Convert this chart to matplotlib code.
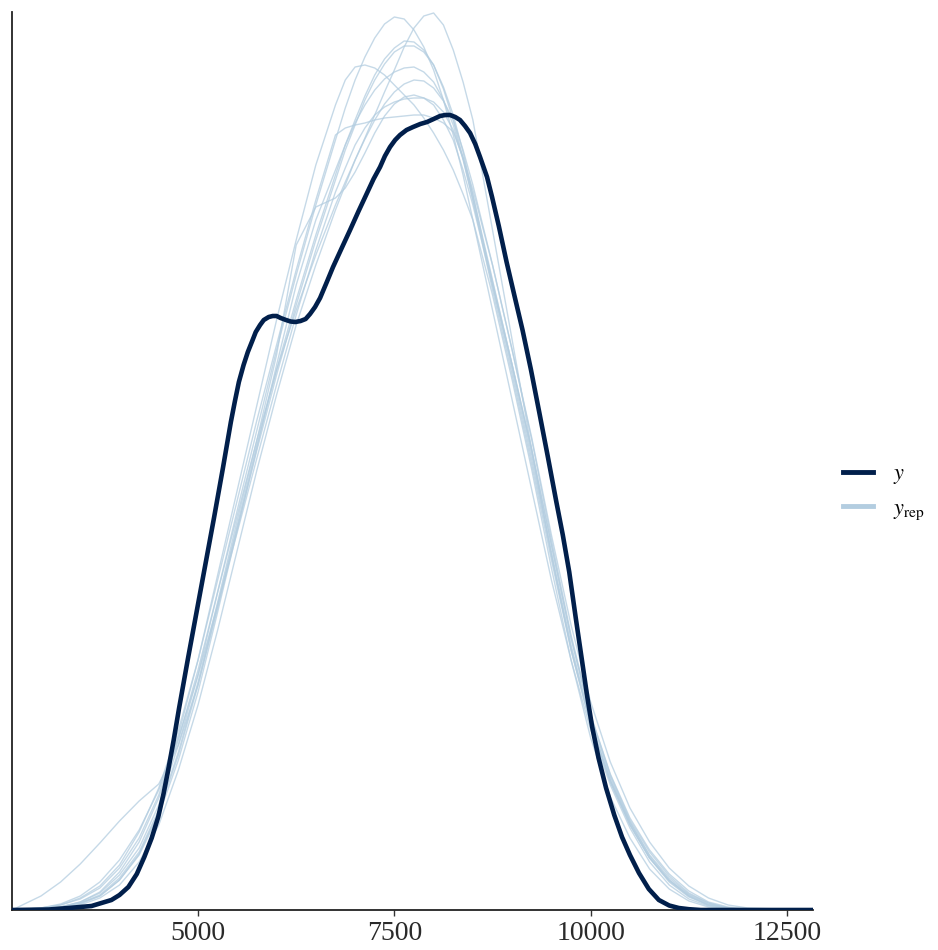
import numpy as np
import matplotlib
matplotlib.use("Agg")
import matplotlib.pyplot as plt
from matplotlib.lines import Line2D

plt.rcParams['font.family'] = ['Liberation Serif', 'DejaVu Serif']
plt.rcParams['mathtext.fontset'] = 'stix'

# ---- data (density in relative units, y axis is unlabelled) ----
y_x = [2631, 3100, 3352, 3644, 3897, 4000, 4113, 4220, 4316, 4410, 4493, 4560, 4620, 4690,
       4759, 4873, 5038, 5203, 5317, 5418, 5470, 5520, 5580, 5634, 5690, 5735, 5790, 5837,
       5900, 5951, 6000, 6052, 6120, 6179, 6240, 6305, 6370, 6426, 6490, 6554, 6640, 6719,
       6830, 6936, 7045, 7152, 7235, 7318, 7380, 7445, 7510, 7572, 7655, 7738, 7830, 7916,
       8000, 8082, 8150, 8209, 8275, 8336, 8400, 8464, 8530, 8591, 8640, 8680, 8744, 8830,
       8929, 9030, 9132, 9240, 9347, 9455, 9563, 9645, 9727, 9810, 9892, 9955, 10019, 10100,
       10196, 10300, 10399, 10500, 10615, 10740, 10868, 11000, 11122, 11250, 11400, 12831]
y_dens = [0, 0.5, 2, 4, 10, 15, 23, 36, 53, 72, 93, 116, 140, 170,
          202, 252, 322, 392, 442, 488, 509, 528, 545, 558, 569, 578, 585, 590,
          593, 594, 594, 592, 590, 588.5, 588, 589, 591, 596, 603, 612, 628, 643,
          662, 680, 699, 717, 731, 743, 754, 763, 770, 775, 780, 783, 786, 788,
          791, 794, 795, 795, 793, 790, 784, 777, 766, 753, 742, 733, 713, 684,
          648, 614, 580, 540, 497, 453, 408, 375, 338, 292, 248, 214, 183, 152,
          122, 95, 73, 55, 37, 21, 10, 4.5, 2, 0.8, 0, 0]

yrep_x = [2631, 3000, 3250, 3500, 3750, 4000, 4250, 4500, 4750, 5000, 5250, 5500, 5750, 6000,
          6250, 6500, 6750, 6875, 7000, 7125, 7250, 7375, 7500, 7625, 7750, 7875, 8000,
          8125, 8250, 8375, 8500, 8750, 9000, 9250, 9500, 9750, 10000, 10250, 10500, 10750,
          11000, 11250, 11500, 11750, 12000, 12831]

yrep_1 = [0, 1, 3, 8, 17, 35, 62, 105, 165, 235, 318, 400, 480, 560, 635, 705,
          770, 802, 830, 853, 872, 886, 893, 891, 880, 863, 840, 810, 775, 735, 690,
          600, 510, 420, 330, 250, 180, 125, 82, 48, 25, 11, 4, 1, 0, 0]
yrep_2 = [0, 0, 2, 5, 12, 25, 48, 85, 140, 205, 280, 360, 440, 515, 585, 645,
          700, 725, 750, 772, 795, 818, 840, 863, 882, 894, 897, 885, 860, 828, 790,
          680, 570, 460, 355, 260, 185, 128, 85, 52, 28, 13, 5, 2, 0, 0]
yrep_3 = [0, 2, 5, 11, 22, 42, 72, 115, 175, 250, 335, 420, 505, 590, 670, 745,
          805, 830, 843, 845, 842, 835, 825, 815, 805, 792, 777, 760, 740, 716, 690,
          615, 530, 440, 342, 250, 172, 113, 72, 41, 21, 9, 3, 1, 0, 0]
yrep_4 = [0, 1, 3, 7, 14, 30, 56, 98, 155, 225, 305, 385, 465, 540, 610, 675,
          735, 765, 790, 814, 835, 851, 862, 869, 868, 860, 845, 821, 790, 752, 710,
          620, 535, 445, 350, 260, 185, 128, 85, 52, 30, 15, 6, 2, 0, 0]
yrep_5 = [0, 14, 28, 46, 67, 89, 109, 126, 165, 225, 302, 382, 460, 535, 605, 670,
          730, 760, 785, 810, 830, 846, 858, 864, 864, 858, 845, 823, 795, 758, 715,
          625, 540, 450, 355, 262, 186, 130, 88, 55, 32, 16, 7, 2, 0, 0]
yrep_6 = [0, 1, 3, 8, 18, 38, 68, 112, 170, 240, 318, 395, 470, 540, 600, 655,
          705, 728, 750, 771, 790, 806, 818, 826, 830, 829, 822, 809, 790, 760, 725,
          645, 560, 470, 370, 275, 195, 135, 90, 58, 34, 17, 7, 2, 0, 0]
yrep_7 = [0, 2, 5, 12, 24, 45, 78, 122, 180, 250, 330, 410, 490, 565, 640, 710,
          775, 782, 785, 787, 790, 792, 793, 794, 795, 795, 792, 787, 778, 752, 715,
          630, 545, 455, 358, 265, 188, 130, 86, 52, 29, 14, 5, 2, 0, 0]
yrep_8 = [0, 1, 3, 7, 15, 32, 58, 100, 158, 228, 308, 390, 470, 555, 665, 703,
          712, 722, 738, 757, 777, 794, 806, 813, 815, 812, 805, 790, 770, 740, 705,
          625, 545, 460, 365, 272, 193, 133, 88, 54, 30, 14, 5, 2, 0, 0]
yrep_9 = [0, 1, 2, 6, 14, 30, 55, 95, 150, 218, 298, 380, 462, 545, 625, 690,
          740, 765, 787, 805, 820, 831, 838, 842, 843, 838, 828, 810, 785, 750, 710,
          628, 545, 460, 365, 272, 195, 136, 92, 60, 36, 19, 8, 3, 1, 0]
yrep_10 = [0, 2, 6, 14, 28, 50, 80, 120, 172, 235, 305, 378, 452, 525, 595, 660,
           718, 742, 765, 782, 795, 803, 808, 811, 812, 812, 808, 798, 780, 752, 720,
           645, 560, 472, 375, 285, 208, 148, 102, 68, 42, 24, 12, 5, 2, 0]
yrep_all = [yrep_1, yrep_2, yrep_3, yrep_4, yrep_5, yrep_6, yrep_7, yrep_8, yrep_9, yrep_10]

x_ticks = [5000, 7500, 10000, 12500]
x_tick_labels = ["5000", "7500", "10000", "12500"]
legend_labels = [r"$y$", r"$y_{\mathrm{rep}}$"]

# ---- style ----
DARK = "#011f4b"
LIGHT = "#b3cde0"

fig = plt.figure(figsize=(9.38, 9.50), dpi=100)
ax = fig.add_axes([12 / 938, 40 / 950, (813 - 12) / 938, (910 - 12) / 950])

for ys in yrep_all:
    ax.plot(yrep_x, ys, color=LIGHT, lw=1.0, alpha=0.75, solid_joinstyle='round', zorder=2)
ax.plot(y_x, y_dens, color=DARK, lw=3.3, solid_joinstyle='round', zorder=3)

ax.set_xlim(2631, 12831)
ax.set_ylim(0, 898)

for s in ['top', 'right']:
    ax.spines[s].set_visible(False)
for s in ['left', 'bottom']:
    ax.spines[s].set_color('#222222')
    ax.spines[s].set_linewidth(1.3)

ax.set_yticks([])
ax.set_xticks(x_ticks)
ax.set_xticklabels(x_tick_labels)
ax.tick_params(axis='x', length=4, width=1.0, color='#333333', labelsize=20,
               labelcolor='#2a2a2a', pad=4)

handles = [Line2D([], [], color=DARK, lw=3.5),
           Line2D([], [], color=LIGHT, lw=3.5)]
fig.legend(handles, legend_labels, loc='center left',
           bbox_to_anchor=(843 / 938, 1 - 493 / 950), frameon=False,
           fontsize=16, handlelength=1.35, handletextpad=0.9, labelspacing=0.55,
           borderpad=0, borderaxespad=0)

fig.savefig("out.png", dpi=100, facecolor='white')
